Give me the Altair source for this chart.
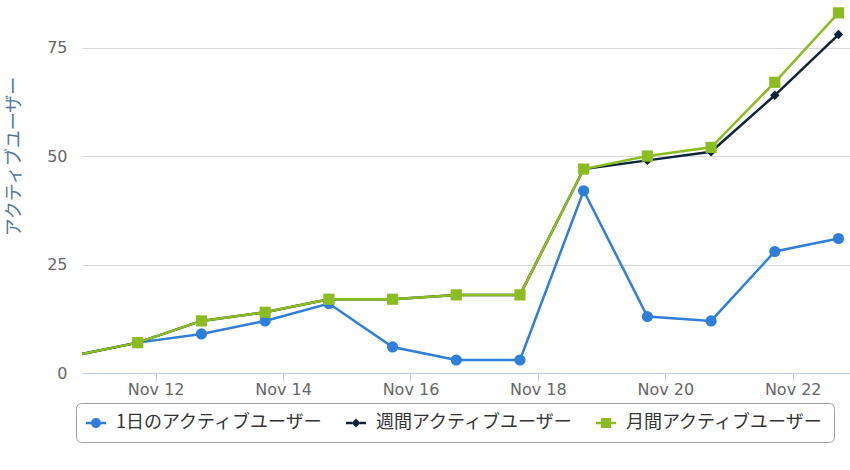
import altair as alt
import pandas as pd

# ---- data ----
days = [10, 11, 12, 13, 14, 15, 16, 17, 18, 19, 20, 21, 22]
series_names = ["1日のアクティブユーザー", "週間アクティブユーザー", "月間アクティブユーザー"]
daily = [4, 7, 9, 12, 16, 6, 3, 3, 42, 13, 12, 28, 31]
weekly = [4, 7, 12, 14, 17, 17, 18, 18, 47, 49, 51, 64, 78]
monthly = [4, 7, 12, 14, 17, 17, 18, 18, 47, 50, 52, 67, 83]
tick_days = [12, 14, 16, 18, 20, 22]
y_ticks = [0, 25, 50, 75]

colors = ["#2f7ed8", "#0d233a", "#8bbc21"]
shapes = ["circle", "diamond", "square"]
sizes = [125, 90, 125]
legend_paths = [
    "M-1,-0.12H-0.45V0.12H-1Z M0.45,-0.12H1V0.12H0.45Z M-0.5,0A0.5,0.5 0 1,1 0.5,0A0.5,0.5 0 1,1 -0.5,0Z",
    "M-1,-0.12H-0.4V0.12H-1Z M0.4,-0.12H1V0.12H0.4Z M0,-0.45L0.45,0L0,0.45L-0.45,0Z",
    "M-1,-0.12H-0.5V0.12H-1Z M0.5,-0.12H1V0.12H0.5Z M-0.5,-0.5H0.5V0.5H-0.5Z",
]

rows = []
for name, vals in zip(series_names, [daily, weekly, monthly]):
    for d, v in zip(days, vals):
        rows.append({"date": f"2012-11-{d:02d}T17:15:00", "series": name, "value": v})
df = pd.DataFrame(rows)

x_enc = alt.X(
    "date:T",
    title=None,
    scale=alt.Scale(
        domain=[
            alt.DateTime(year=2012, month=11, date=10, hours=20, minutes=15),
            alt.DateTime(year=2012, month=11, date=22, hours=21, minutes=35),
        ],
        nice=False,
    ),
    axis=alt.Axis(
        values=[alt.DateTime(year=2012, month=11, date=d) for d in tick_days],
        format="%b %d",
        grid=False,
        domainColor="#C0D0E0",
        domainWidth=1,
        tickColor="#C0D0E0",
        tickSize=8,
        labelPadding=0,
        labelFont="DejaVu Sans",
        labelFontSize=16,
        labelColor="#666666",
    ),
)
y_enc = alt.Y(
    "value:Q",
    title="アクティブユーザー",
    scale=alt.Scale(domain=[0, 85.5], nice=False),
    axis=alt.Axis(
        values=y_ticks,
        grid=True,
        gridColor="#D8D8D8",
        gridWidth=1,
        domain=False,
        ticks=False,
        labelPadding=15,
        labelFont="DejaVu Sans",
        labelFontSize=16,
        labelColor="#666666",
        titleFont="Noto Sans CJK JP",
        titleFontSize=18,
        titleFontWeight="normal",
        titleColor="#4d759e",
        titleAngle=270,
        titleAlign="center",
        titleBaseline="middle",
        titleX=-68,
        titleY=154,
    ),
)

base = alt.Chart(df)
layers = []
for name, color, shape, size in zip(series_names, colors, shapes, sizes):
    sub = base.transform_filter(alt.datum.series == name)
    layers.append(
        sub.mark_line(color=color, strokeWidth=2.5, clip=True).encode(x=x_enc, y=y_enc)
    )
    layers.append(
        sub.mark_point(shape=shape, filled=True, size=size, color=color, opacity=1, clip=True).encode(
            x=x_enc, y=y_enc
        )
    )

leg = alt.Legend(
    title=None,
    orient="none",
    legendX=-6,
    legendY=401,
    direction="horizontal",
    symbolSize=400,
    symbolOpacity=1,
    symbolStrokeWidth=0,
    labelFont="Noto Sans CJK JP",
    labelFontSize=18,
    labelColor="#333333",
    labelOffset=10,
    labelLimit=0,
    columnPadding=22,
    padding=10,
    strokeColor="#A0A0A0",
    cornerRadius=5,
    fillColor="white",
)

legend_layer = base.mark_point(filled=True, opacity=0, size=1).encode(
    x=x_enc,
    y=y_enc,
    color=alt.Color("series:N", scale=alt.Scale(domain=series_names, range=colors), legend=leg),
    shape=alt.Shape("series:N", scale=alt.Scale(domain=series_names, range=legend_paths), legend=leg),
)

chart = (
    alt.layer(*layers, legend_layer)
    .properties(
        width=768,
        height=371,
        autosize=alt.AutoSizeParams(type="none"),
        padding={"left": 82, "top": 2, "right": 0, "bottom": 97},
        background="white",
    )
    .configure_view(stroke=None)
)

chart.save("out.html", embed_options={"renderer": "svg", "actions": False})
